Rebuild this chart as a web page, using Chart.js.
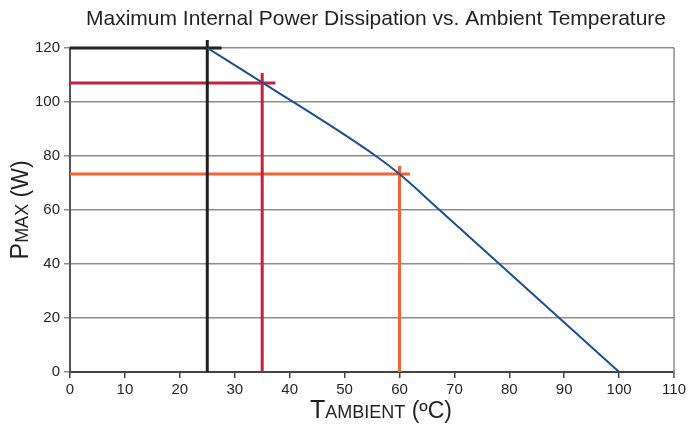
<!DOCTYPE html>
<html>
<head>
<meta charset="utf-8">
<script src="https://cdn.jsdelivr.net/npm/chart.js@4.4.1/dist/chart.umd.min.js"></script>
<style>
  html, body { margin: 0; padding: 0; background: #fff; }
  #wrap { width: 689px; height: 429px; }
</style>
</head>
<body>
<div id="wrap"><canvas id="chart" width="689" height="429"></canvas></div>
<script>
// derating curve (ambient temp vs max power)
const curveTemp = [25, 35.2, 55.7, 60, 67.3, 78.2, 100];
const curvePower = [120, 107, 80, 73.3, 60, 40, 0];

// marker cross lines: black, red, orange
const markerTemp = [25, 35, 60];
const markerPower = [120, 107, 73.3];
const markerTop = [123, 110.7, 76.3];   // how high the vertical goes
const markerRight = [27.6, 37.4, 61.9]; // how far the horizontal goes
const markerColors = ['#231f20', '#c8203a', '#f26532'];

const tempTicks = [0, 10, 20, 30, 40, 50, 60, 70, 80, 90, 100, 110];
const powerTicks = [0, 20, 40, 60, 80, 100, 120];

const FONT = '"Liberation Sans", Arial, sans-serif';

let datasets = [{
    data: curveTemp.map((t, i) => ({ x: t, y: curvePower[i] })),
    showLine: true,
    cubicInterpolationMode: 'monotone',
    borderColor: '#1d4f8f',
    borderWidth: 2,
    pointRadius: 0,
    clip: false
}];

markerTemp.forEach(function (t, i) {
    // vertical
    datasets.push({
        data: [{ x: t, y: 0 }, { x: t, y: markerTop[i] }],
        showLine: true,
        borderColor: markerColors[i],
        borderWidth: 3,
        pointRadius: 0,
        clip: false
    });
    // horizontal
    datasets.push({
        data: [{ x: 0, y: markerPower[i] }, { x: markerRight[i], y: markerPower[i] }],
        showLine: true,
        borderColor: markerColors[i],
        borderWidth: 3,
        pointRadius: 0,
        clip: false
    });
});

// title, axis titles (mixed size caps) and right border
const decor = {
    id: 'decor',
    afterDraw(chart) {
        const ctx = chart.ctx;
        const area = chart.chartArea;
        ctx.save();

        ctx.strokeStyle = '#8c8c8c';
        ctx.lineWidth = 1.5;
        ctx.beginPath();
        ctx.moveTo(area.right, area.top);
        ctx.lineTo(area.right, area.bottom + 6);
        ctx.stroke();

        ctx.fillStyle = '#231f20';
        ctx.textBaseline = 'alphabetic';
        ctx.font = '21px ' + FONT;
        ctx.textAlign = 'center';
        ctx.fillText('Maximum Internal Power Dissipation vs. Ambient Temperature', 376, 25);

        // x title
        drawParts(ctx, [['T', 25], ['AMBIENT', 18], [' (ºC)', 23]], 381, 418);

        // y title, rotated
        ctx.save();
        ctx.translate(28, 210);
        ctx.rotate(-Math.PI / 2);
        drawParts(ctx, [['P', 25], ['MAX', 18], [' (W)', 23]], 0, 0);
        ctx.restore();

        ctx.restore();
    }
};

function drawParts(ctx, parts, cx, y) {
    let total = 0;
    parts.forEach(function (p) {
        ctx.font = p[1] + 'px ' + FONT;
        total += ctx.measureText(p[0]).width;
    });
    let x = cx - total / 2;
    ctx.textAlign = 'left';
    parts.forEach(function (p) {
        ctx.font = p[1] + 'px ' + FONT;
        ctx.fillText(p[0], x, y);
        x += ctx.measureText(p[0]).width;
    });
}

new Chart(document.getElementById('chart'), {
    type: 'scatter',
    data: { datasets: datasets },
    options: {
        responsive: false,
        animation: false,
        layout: { padding: { top: 48, right: 13, left: 0, bottom: 0 } },
        plugins: { legend: { display: false }, tooltip: { enabled: false } },
        scales: {
            x: {
                type: 'linear',
                min: 0,
                max: 110,
                afterFit(scale) { scale.height = 57; },
                afterBuildTicks(scale) { scale.ticks = tempTicks.map(v => ({ value: v })); },
                ticks: { color: '#231f20', font: { size: 15, family: FONT }, padding: 3 },
                grid: { drawOnChartArea: false, drawTicks: true, tickLength: 6, color: '#444', lineWidth: 1.5 },
                border: { color: '#444', width: 2 }
            },
            y: {
                min: 0,
                max: 120,
                afterFit(scale) { scale.width = 70; },
                afterBuildTicks(scale) { scale.ticks = powerTicks.map(v => ({ value: v })); },
                ticks: { color: '#231f20', font: { size: 15, family: FONT }, padding: 4 },
                grid: { color: '#8c8c8c', lineWidth: 1.5, tickLength: 6, drawTicks: true },
                border: { color: '#555', width: 2 }
            }
        }
    },
    plugins: [decor]
});
</script>
</body>
</html>
